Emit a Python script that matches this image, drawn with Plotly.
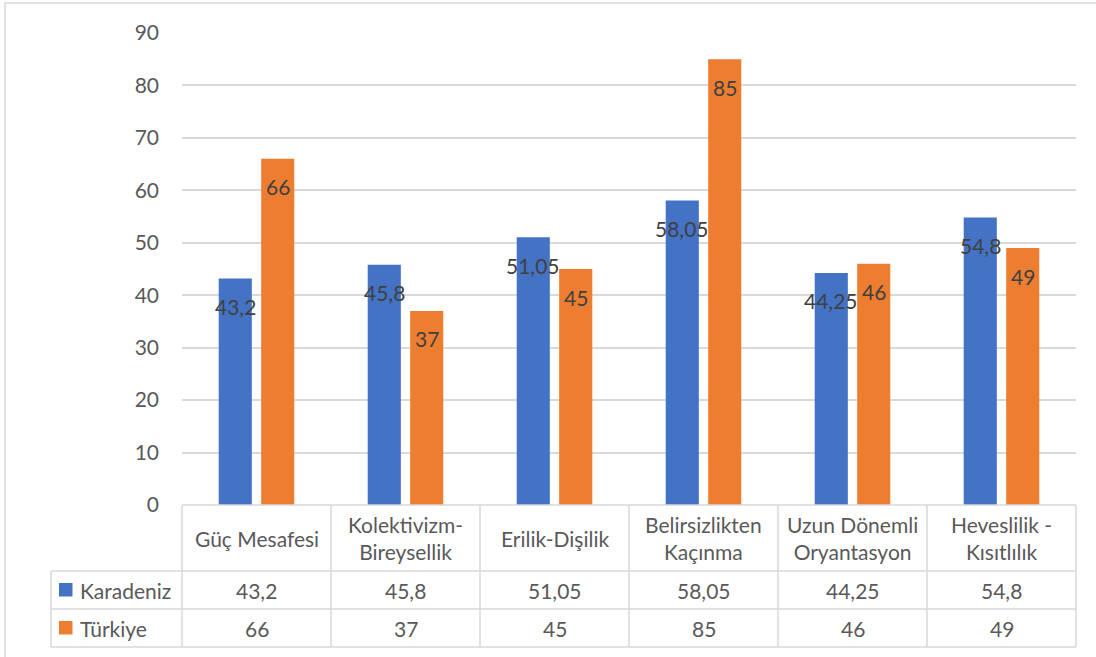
import plotly.graph_objects as go

categories = ["Güç Mesafesi", "Kolektivizm-<br>Bireysellik", "Erilik-Dişilik",
              "Belirsizlikten<br>Kaçınma", "Uzun Dönemli<br>Oryantasyon", "Heveslilik -<br>Kısıtlılık"]
series_names = ["Karadeniz", "Türkiye"]
karadeniz = [43.2, 45.8, 51.05, 58.05, 44.25, 54.8]
turkiye = [66, 37, 45, 85, 46, 49]
colors = ["#4472C4", "#ED7D31"]
y_ticks = [0, 10, 20, 30, 40, 50, 60, 70, 80, 90]

W, H = 1096, 657
L, R, T, B = 182, 1076, 33, 505
FONT = "Lato, Calibri, Carlito, sans-serif"
FS = 21
GRID = "#d9d9d9"


def px(x):
    return (x - L) / (R - L)


def py(y):
    return (B - y) / (B - T)


def fmt(v):
    return f"{v:g}".replace(".", ",")


cat_keys = list(range(len(categories)))
all_series = [karadeniz, turkiye]

fig = go.Figure()
for name, vals, col in zip(series_names, all_series, colors):
    fig.add_trace(go.Bar(x=cat_keys, y=vals, name=name, marker_color=col,
                         marker_line_width=0, hoverinfo="skip"))

annotations = []
shapes = []
# data labels (inside end)
slot = (R - L) / len(categories) * (1 - 0.43) / 2
for si, vals in enumerate(all_series):
    off = (si - 0.5) * slot
    for i, v in enumerate(vals):
        annotations.append(dict(x=i, y=v, xref="x", yref="y", text=fmt(v), showarrow=False,
                                xshift=off, yshift=-28, yanchor="middle", xanchor="center",
                                font=dict(family=FONT, size=FS, color="#404040")))

# table geometry (pixels)
tab_left = 51
row_y = [B, 571, 609, 647]
col_w = (R - L) / len(categories)
line = dict(color=GRID, width=1.5)
shapes.append(dict(type="line", xref="paper", yref="paper", x0=px(L), x1=px(R), y0=py(B), y1=py(B), line=line))
for yy in row_y[1:]:
    shapes.append(dict(type="line", xref="paper", yref="paper", x0=px(tab_left), x1=px(R), y0=py(yy), y1=py(yy), line=line))
shapes.append(dict(type="line", xref="paper", yref="paper", x0=px(tab_left), x1=px(tab_left), y0=py(row_y[1]), y1=py(row_y[3]), line=line))
for k in range(len(categories) + 1):
    xx = L + k * col_w
    shapes.append(dict(type="line", xref="paper", yref="paper", x0=px(xx), x1=px(xx), y0=py(B), y1=py(row_y[3]), line=line))

for i, c in enumerate(categories):
    annotations.append(dict(x=px(L + (i + 0.5) * col_w), y=py((row_y[0] + row_y[1]) / 2), xref="paper", yref="paper",
                            text=c, showarrow=False, xanchor="center", yanchor="middle",
                            font=dict(family=FONT, size=FS, color="#595959")))
for si, (name, vals, col) in enumerate(zip(series_names, all_series, colors)):
    yc = (row_y[1 + si] + row_y[2 + si]) / 2
    shapes.append(dict(type="rect", xref="paper", yref="paper", x0=px(59), x1=px(72.5),
                       y0=py(yc - 7), y1=py(yc + 6.5), fillcolor=col, line=dict(width=0)))
    annotations.append(dict(x=px(78), y=py(yc), xref="paper", yref="paper", text=name, showarrow=False,
                            xanchor="left", yanchor="middle", font=dict(family=FONT, size=FS, color="#595959")))
    for i, v in enumerate(vals):
        annotations.append(dict(x=px(L + (i + 0.5) * col_w), y=py(yc), xref="paper", yref="paper",
                                text=fmt(v), showarrow=False, xanchor="center", yanchor="middle",
                                font=dict(family=FONT, size=FS, color="#595959")))

shapes.append(dict(type="rect", xref="paper", yref="paper", x0=px(5), x1=px(1100), y0=py(3), y1=py(700),
                   line=dict(color=GRID, width=1.5), fillcolor="rgba(0,0,0,0)", layer="below"))

fig.update_layout(
    width=W, height=H,
    margin=dict(l=L, r=W - R, t=T, b=H - B, pad=0),
    paper_bgcolor="white", plot_bgcolor="white",
    showlegend=False,
    barmode="group", bargap=0.43, bargroupgap=0.22,
    font=dict(family=FONT, size=FS, color="#595959"),
    xaxis=dict(showticklabels=False, showgrid=False, zeroline=False, showline=False,
               range=[-0.5, len(categories) - 0.5], fixedrange=True),
    yaxis=dict(range=[0, 90], tickvals=y_ticks, showgrid=True, gridcolor=GRID, gridwidth=1.5,
               zeroline=False, showline=False, ticks="", ticklabelstandoff=22,
               tickfont=dict(family=FONT, size=FS, color="#595959"), fixedrange=True),
    annotations=annotations, shapes=shapes,
)

fig.write_html("out.html", config={"displayModeBar": False},
               post_script="document.body.style.margin='0';document.body.style.overflow='hidden';")
